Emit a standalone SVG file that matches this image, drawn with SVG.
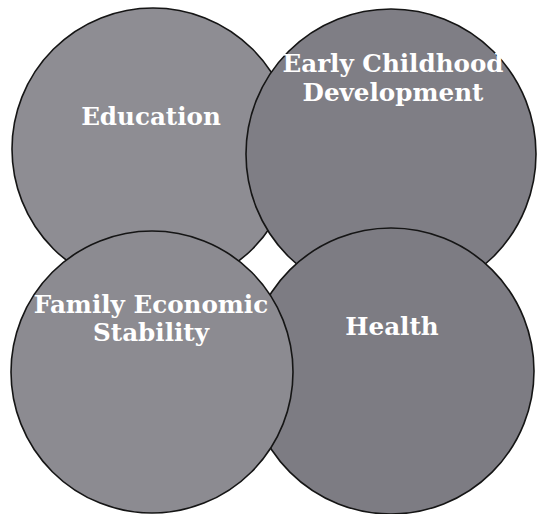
<svg xmlns="http://www.w3.org/2000/svg" width="538" height="514" viewBox="0 0 538 514">
<style>
.ring{stroke:#151515;stroke-width:1.6}
.lbl{font-family:"DejaVu Serif","Liberation Serif",serif;font-weight:bold;font-size:24.6px;fill:#ffffff;text-anchor:middle}
</style>
<rect width="538" height="514" fill="#ffffff"/>
<g id="education">
<circle class="ring" cx="153" cy="149" r="141" fill="#8e8d93"/>
<text class="lbl" x="151" y="125">Education</text>
</g>
<g id="early-childhood-development">
<circle class="ring" cx="391" cy="154" r="145" fill="#7f7e85"/>
<text class="lbl" x="393" y="72">Early Childhood</text>
<text class="lbl" x="393" y="101">Development</text>
</g>
<g id="health">
<circle class="ring" cx="391" cy="371" r="143" fill="#7d7c83"/>
<text class="lbl" x="392" y="335">Health</text>
</g>
<g id="family-economic-stability">
<circle class="ring" cx="152" cy="372" r="141" fill="#8c8b91"/>
<text class="lbl" x="151" y="313">Family Economic</text>
<text class="lbl" x="151" y="341">Stability</text>
</g>
<g id="connectors"></g>
</svg>
